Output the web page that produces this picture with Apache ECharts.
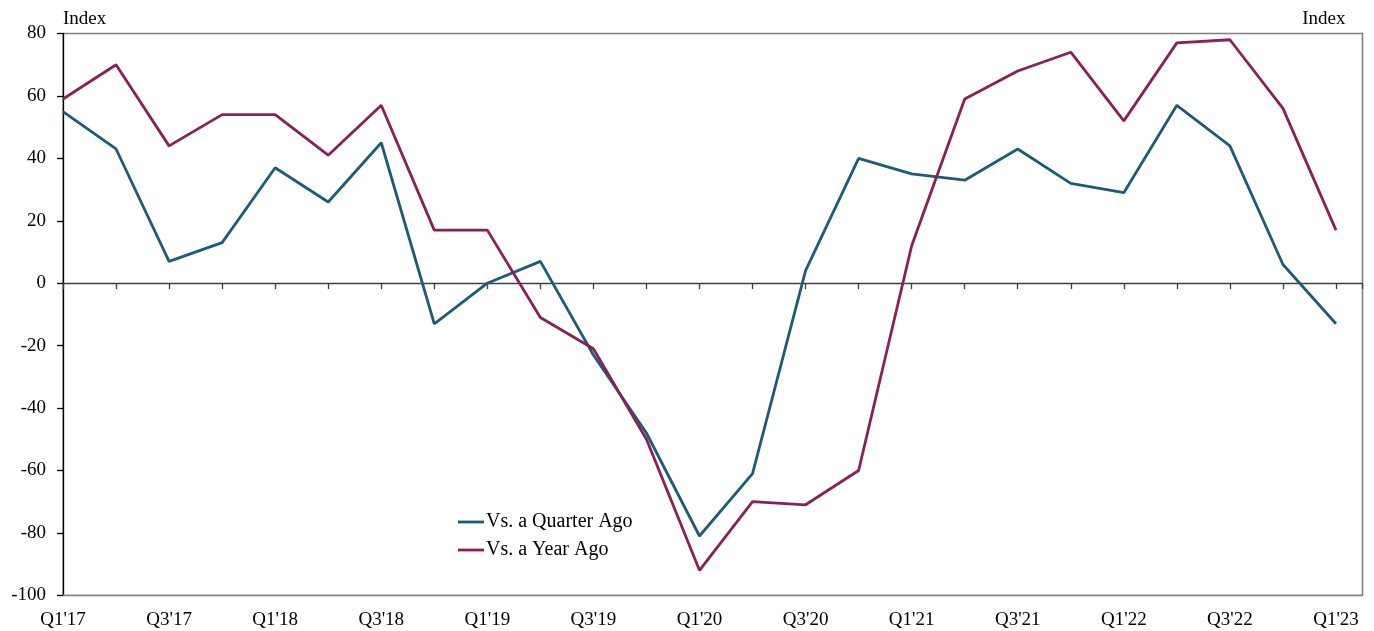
<!DOCTYPE html>
<html>
<head>
<meta charset="utf-8">
<script src="https://cdn.jsdelivr.net/npm/echarts@6/dist/echarts.min.js"></script>
<style>
html,body{margin:0;padding:0;background:#fff;}
#chart{width:1374px;height:631px;}
</style>
</head>
<body>
<div id="chart"></div>
<script>
const categories = ["Q1'17","Q2'17","Q3'17","Q4'17","Q1'18","Q2'18","Q3'18","Q4'18",
  "Q1'19","Q2'19","Q3'19","Q4'19","Q1'20","Q2'20","Q3'20","Q4'20",
  "Q1'21","Q2'21","Q3'21","Q4'21","Q1'22","Q2'22","Q3'22","Q4'22","Q1'23"];
const vsQuarterAgo = [55,43,7,13,37,26,45,-13,0,7,-23,-48,-81,-61,4,40,35,33,43,32,29,57,44,6,-13];
const vsYearAgo = [59,70,44,54,54,41,57,17,17,-11,-21,-50,-92,-70,-71,-60,12,59,68,74,52,77,78,56,17];
const yTicks = {min:-100, max:80, interval:20};
const seriesNames = ['Vs. a Quarter Ago','Vs. a Year Ago'];
const unitLabel = 'Index';

const FONT = 'Liberation Serif';
const toPairs = arr => arr.map((v,i)=>[i,v]);
const xMax = categories.length - 0.5;

const chart = echarts.init(document.getElementById('chart'), null, {renderer:'canvas'});
chart.setOption({
  animation:false,
  backgroundColor:'#ffffff',
  textStyle:{fontFamily:FONT},
  grid:{left:63, right:11.5, top:33.5, bottom:35.7, show:true, borderColor:'#808080', borderWidth:1.3, containLabel:false},
  legend:{
    orient:'vertical', left:453, top:507, icon:'rect', itemWidth:26, itemHeight:2.8, itemGap:8,
    textStyle:{fontFamily:FONT, fontSize:20, color:'#000', padding:[0,0,0,-3]},
    data:seriesNames
  },
  xAxis:[
    {
      type:'value', min:0, max:xMax, interval:1, position:'bottom',
      axisLine:{show:true, onZero:false, lineStyle:{color:'#808080', width:1.3}},
      axisTick:{show:false},
      splitLine:{show:false},
      axisLabel:{
        fontFamily:FONT, fontSize:19, color:'#000', margin:15,
        showMaxLabel:false,
        formatter:function(v){ return (Number.isInteger(v) && v%2===0) ? categories[v] : ''; }
      }
    },
    {
      type:'value', min:0, max:xMax, interval:1, position:'top',
      axisLine:{show:true, onZero:true, lineStyle:{color:'#404040', width:1.3}},
      axisTick:{show:true, inside:true, length:6, lineStyle:{color:'#404040', width:1.3}},
      axisLabel:{show:false},
      splitLine:{show:false}
    }
  ],
  yAxis:[
    {
      type:'value', min:yTicks.min, max:yTicks.max, interval:yTicks.interval, position:'left',
      name:unitLabel, nameLocation:'end', nameGap:5,
      nameTextStyle:{fontFamily:FONT, fontSize:19, color:'#000', align:'left', verticalAlign:'bottom'},
      axisLine:{show:true, onZero:false, lineStyle:{color:'#000', width:1.3}},
      axisTick:{show:true, length:6, lineStyle:{color:'#000', width:1.3}},
      axisLabel:{fontFamily:FONT, fontSize:19, color:'#000', margin:17},
      splitLine:{show:false}
    },
    {
      type:'value', min:yTicks.min, max:yTicks.max, interval:yTicks.interval, position:'right',
      name:unitLabel, nameLocation:'end', nameGap:5,
      nameTextStyle:{fontFamily:FONT, fontSize:19, color:'#000', align:'right', verticalAlign:'bottom', padding:[0,17,0,0]},
      axisLine:{show:true, onZero:false, lineStyle:{color:'#808080', width:1.3}},
      axisTick:{show:false},
      axisLabel:{show:false},
      splitLine:{show:false}
    }
  ],
  series:[
    {
      name:seriesNames[0], type:'line', xAxisIndex:0, yAxisIndex:0,
      data:toPairs(vsQuarterAgo), symbol:'none',
      lineStyle:{color:'#1d5c78', width:2.8}, itemStyle:{color:'#1d5c78'}
    },
    {
      name:seriesNames[1], type:'line', xAxisIndex:0, yAxisIndex:0,
      data:toPairs(vsYearAgo), symbol:'none',
      lineStyle:{color:'#8c1f57', width:2.8}, itemStyle:{color:'#8c1f57'}
    }
  ]
});
</script>
</body>
</html>
